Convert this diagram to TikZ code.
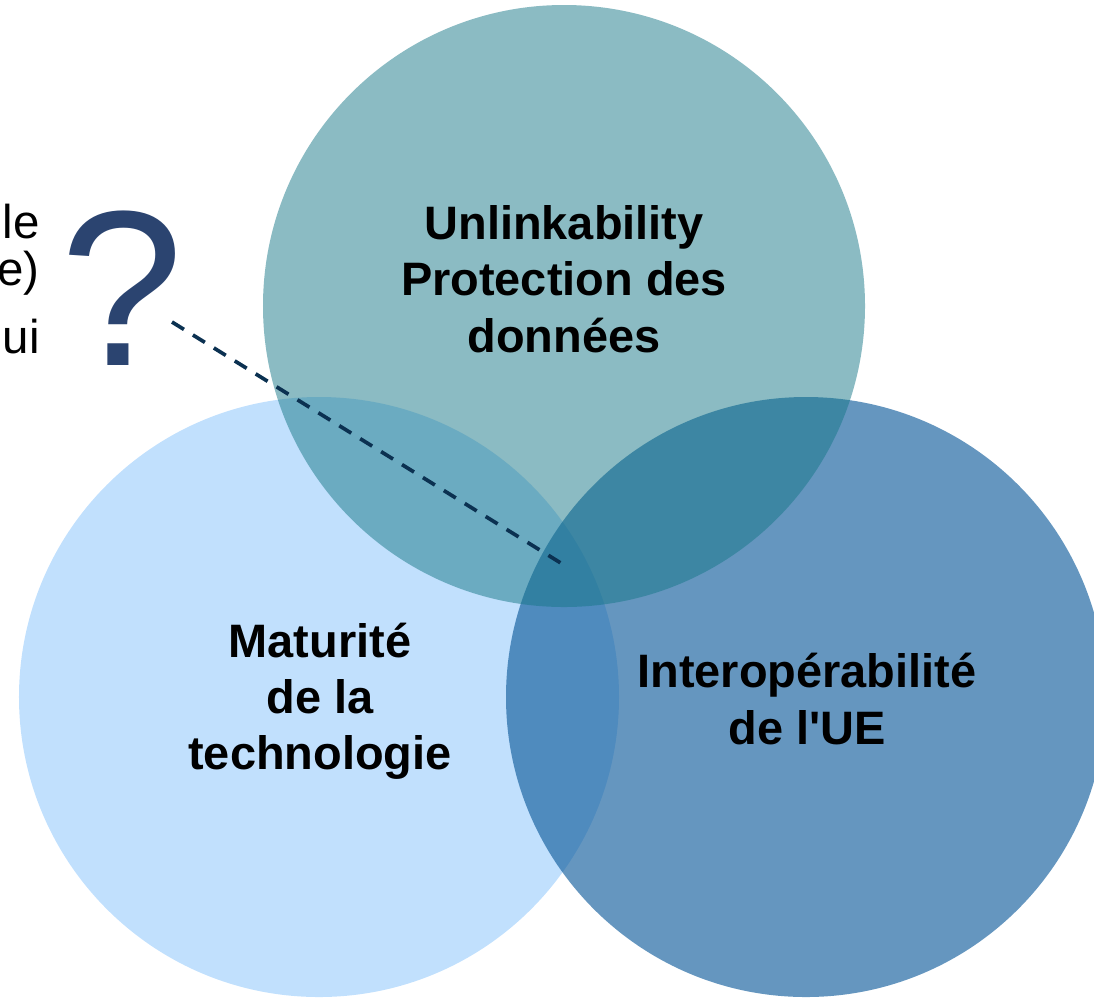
\documentclass[tikz,border=0pt]{standalone}
\usepackage{fontspec}
\setmainfont{Liberation Sans}
\newfontfamily\labelfont{Liberation Sans}
\definecolor{techblue}{HTML}{C1E0FD}
\definecolor{eublue}{HTML}{105C9C}
\definecolor{privteal}{HTML}{177787}
\definecolor{qnavy}{HTML}{2B4470}
\definecolor{linknavy}{HTML}{0B3151}
\begin{document}
\begin{tikzpicture}[x=0.2mm, y=-0.2mm,
  blob/.style={circle, inner sep=0pt, minimum size=120.4mm},
  tag/.style={font=\labelfont\fontsize{26.7}{32}\selectfont\bfseries, align=center, inner sep=0pt},
  side/.style={font=\fontsize{27}{32}\selectfont, anchor=base east, inner sep=0pt},
  link/.style={draw=linknavy, line width=2.1pt, dash pattern=on 8pt off 6pt}]
  \useasboundingbox (0,0) rectangle (1094,998);
  \node[blob, fill=techblue, minimum size=120mm] (tech) at (319,697) {};
  \node[blob, fill=eublue, fill opacity=0.645, minimum size=120mm] (eu) at (806,697) {};
  \node[blob, fill=privteal, fill opacity=0.5] (priv) at (564,306) {};
  \node[tag] (privtxt) at (564,279) {Unlinkability\\Protection des\\données};
  \node[tag] (techtxt) at (320,701) {Maturité\\de la\\technologie};
  \node[tag] (eutxt) at (807,699) {Interopérabilité\\de l'UE};
  \node[side] (frag1) at (40,238) {le};
  \node[side] (frag2) at (40,285) {e)};
  \node[side] (frag3) at (40,353) {ui};
  \node[font=\fontsize{126}{126}\selectfont, text=qnavy, anchor=base west, inner sep=0pt] (qmark) at (60,365) {?};
  \coordinate (qtail) at (172,322);
  \coordinate (hub) at (564,565);
  \draw[link] (qtail) -- (hub);
\end{tikzpicture}
\end{document}
